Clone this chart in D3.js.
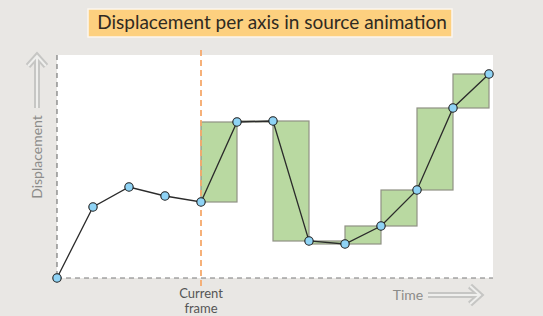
<!DOCTYPE html>
<html>
<head>
<meta charset="utf-8">
<script src="https://cdn.jsdelivr.net/npm/d3@7"></script>
<style>
  body { margin: 0; background: #e9e7e4; }
  svg { display: block; font-family: Lato, "Noto Sans", sans-serif; }
</style>
</head>
<body>
<div id="chart"></div>
<script>
// frame index along the time axis, displacement per frame
var frames = [0, 1, 2, 3, 4, 5, 6, 7, 8, 9, 10, 11, 12];
var displacement = [0, 71, 91, 82, 76, 156, 157, 37, 34, 52, 88, 170, 204];
var currentFrame = 4;
var titleText = "Displacement per axis in source animation";
var yLabel = "Displacement";
var xLabel = "Time";
var frameLabel = ["Current", "frame"];

var width = 543, height = 316;

var svg = d3.select("#chart").append("svg")
  .attr("width", width)
  .attr("height", height);

svg.append("rect")
  .attr("width", width).attr("height", height)
  .attr("fill", "#e9e7e4");

var x = d3.scaleLinear().domain([0, 12]).range([57, 489]);
var y = d3.scaleLinear().domain([0, 204]).range([278, 74]);

// plot panel
svg.append("rect")
  .attr("x", 57).attr("y", 55)
  .attr("width", 436).attr("height", 223)
  .attr("fill", "#ffffff");

// dashed axes
svg.append("line")
  .attr("x1", 57).attr("x2", 57).attr("y1", 55).attr("y2", 278)
  .attr("stroke", "#7a7a7a").attr("stroke-width", 1.2)
  .attr("stroke-dasharray", "5,4");
svg.append("line")
  .attr("x1", 57).attr("x2", 493).attr("y1", 278).attr("y2", 278)
  .attr("stroke", "#7a7a7a").attr("stroke-width", 1.2)
  .attr("stroke-dasharray", "5,4");

// steps after the current frame
var pts = frames.map(function(f, i) { return { f: f, v: displacement[i] }; });
var steps = d3.pairs(pts).filter(function(p) { return p[0].f >= currentFrame; });

svg.selectAll("rect.step")
  .data(steps)
  .enter().append("rect")
  .attr("class", "step")
  .attr("x", function(d) { return x(d[0].f); })
  .attr("width", function(d) { return x(d[1].f) - x(d[0].f); })
  .attr("y", function(d) { return y(Math.max(d[0].v, d[1].v)); })
  .attr("height", function(d) { return Math.max(1, Math.abs(y(d[0].v) - y(d[1].v))); })
  .attr("fill", "#b9d9a1")
  .attr("stroke", "#8f9184")
  .attr("stroke-width", 1.2);

// current frame marker
svg.append("line")
  .attr("x1", x(currentFrame)).attr("x2", x(currentFrame))
  .attr("y1", 50).attr("y2", 287)
  .attr("stroke", "#f6a96c").attr("stroke-width", 1.8)
  .attr("stroke-dasharray", "6,4");

var line = d3.line()
  .x(function(d) { return x(d.f); })
  .y(function(d) { return y(d.v); });

svg.append("path")
  .datum(pts)
  .attr("d", line)
  .attr("fill", "none")
  .attr("stroke", "#2b2b2b")
  .attr("stroke-width", 1.3);

svg.selectAll("circle")
  .data(pts)
  .enter().append("circle")
  .attr("cx", function(d) { return x(d.f); })
  .attr("cy", function(d) { return y(d.v); })
  .attr("r", 4.2)
  .attr("fill", "#8fd3f5")
  .attr("stroke", "#1d1d1d")
  .attr("stroke-width", 1.1);

// title box
svg.append("rect")
  .attr("x", 88).attr("y", 9)
  .attr("width", 364).attr("height", 28)
  .attr("fill", "#fdd07f")
  .attr("stroke", "#fbf6ee").attr("stroke-width", 1.5);
svg.append("text")
  .attr("x", 272).attr("y", 29)
  .attr("text-anchor", "middle")
  .attr("font-size", 19)
  .attr("fill", "#2f2a22")
  .text(titleText);

// hollow arrows
function arrow(g, pathD) {
  g.append("path").attr("d", pathD)
    .attr("fill", "none").attr("stroke", "#c6c6c4")
    .attr("stroke-width", 6).attr("stroke-linejoin", "miter");
  g.append("path").attr("d", pathD)
    .attr("fill", "none").attr("stroke", "#efefed")
    .attr("stroke-width", 2).attr("stroke-linejoin", "miter");
}

var ya = svg.append("g");
arrow(ya, "M37,108 L37,56 M28,66 L37,56 L46,66");
var xa = svg.append("g");
arrow(xa, "M428,295 L480,295 M470,286 L480,295 L470,304");

svg.append("text")
  .attr("transform", "translate(42,157) rotate(-90)")
  .attr("text-anchor", "middle")
  .attr("font-size", 14)
  .attr("fill", "#8c8c8a")
  .text(yLabel);

svg.append("text")
  .attr("x", 408).attr("y", 300)
  .attr("text-anchor", "middle")
  .attr("font-size", 14)
  .attr("fill", "#8c8c8a")
  .text(xLabel);

svg.append("text")
  .attr("text-anchor", "middle")
  .attr("font-size", 13)
  .attr("fill", "#555")
  .selectAll("tspan")
  .data(frameLabel)
  .enter().append("tspan")
  .attr("x", x(currentFrame))
  .attr("y", function(d, i) { return 298 + i * 15; })
  .text(function(d) { return d; });
</script>
</body>
</html>
